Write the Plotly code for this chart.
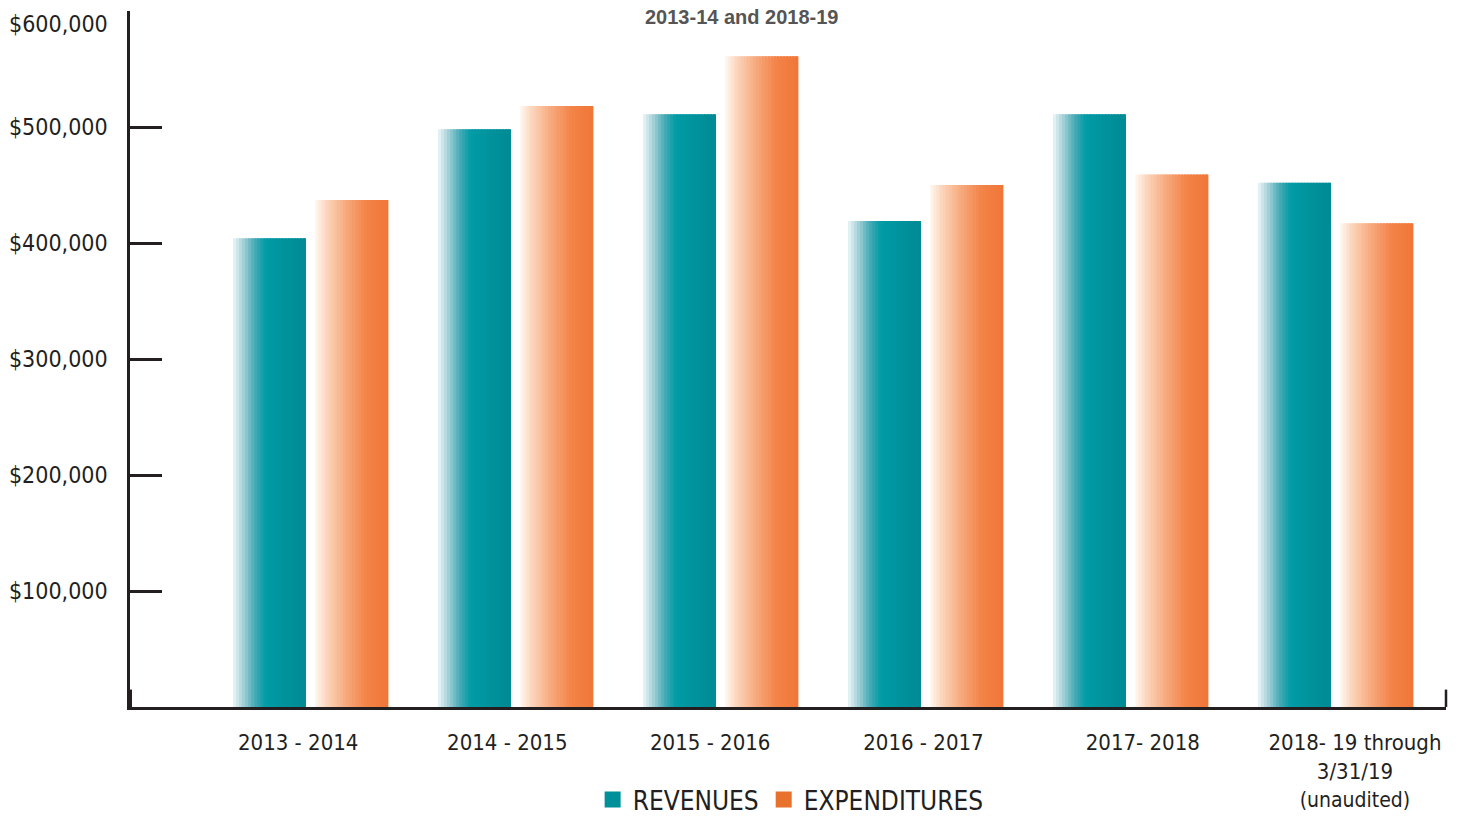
import plotly.graph_objects as go

# ---------------- data ----------------
categories = ["2013 - 2014", "2014 - 2015", "2015 - 2016", "2016 - 2017", "2017- 2018",
              "2018- 19 through<br>3/31/19<br><span style='font-size:21px'>(unaudited)</span>"]
revenues = [404000, 498000, 511000, 419000, 511000, 452000]
expenditures = [437000, 518000, 561000, 450000, 459000, 417000]
y_tick_vals = [100000, 200000, 300000, 400000, 500000, 600000]
y_tick_text = ["$100,000", "$200,000", "$300,000", "$400,000", "$500,000", "$600,000"]
series_names = ["REVENUES", "EXPENDITURES"]
title_text = "2013-14 and 2018-19"

# ---------------- style ----------------
FONT = "Liberation Sans Narrow, DejaVu Sans Condensed, Arial Narrow, sans-serif"
INK = "#231f20"
label_shift = [-0.06, -0.04, -0.05, -0.01, 0.06, 0.095]  # tick label nudges (group units)
bar_w = 0.356
rev_off = -0.378
exp_off = 0.024
N = 24

teal_stops = [(0.0, (236, 246, 248)), (0.12, (175, 213, 220)), (0.3, (70, 170, 180)),
              (0.45, (0, 156, 166)), (0.7, (0, 147, 157)), (1.0, (0, 138, 148))]
orange_stops = [(0.0, (255, 246, 238)), (0.15, (252, 214, 190)), (0.4, (247, 172, 128)),
                (0.7, (243, 131, 72)), (1.0, (240, 118, 55))]


def interp(stops, t):
    for (t0, c0), (t1, c1) in zip(stops[:-1], stops[1:]):
        if t0 <= t <= t1:
            f = (t - t0) / (t1 - t0) if t1 > t0 else 0
            return "rgb(%d,%d,%d)" % tuple(round(a + (b - a) * f) for a, b in zip(c0, c1))
    return "rgb(%d,%d,%d)" % stops[-1][1]


x_idx = list(range(len(categories)))
fig = go.Figure()
step = bar_w / N
for vals, off, stops in [(revenues, rev_off, teal_stops), (expenditures, exp_off, orange_stops)]:
    for k in range(N):
        t = (k + 0.5) / N
        w = step if k == N - 1 else step * 1.6
        fig.add_trace(go.Bar(
            x=x_idx, y=vals, offset=off + k * step, width=w,
            marker=dict(color=interp(stops, t), line=dict(width=0)),
            showlegend=False, hoverinfo="skip"))

# legend entries
for name, col in zip(series_names, ["#00909a", "#e8712e"]):
    fig.add_trace(go.Scatter(x=[None], y=[None], mode="markers", name=name,
                             marker=dict(symbol="square", size=22, color=col)))

fig.update_layout(
    width=1461, height=819,
    margin=dict(l=130, r=15, t=11, b=112, autoexpand=False),
    plot_bgcolor="white", paper_bgcolor="white",
    barmode="overlay",
    font=dict(family=FONT, color=INK, size=22),
    showlegend=True,
    legend=dict(orientation="h", x=0.502, xanchor="center", y=-0.133, yanchor="middle",
                font=dict(size=26, color=INK), itemsizing="trace", tracegroupgap=0,
                bgcolor="rgba(0,0,0,0)"),
    xaxis=dict(range=[-0.8805, 5.539], tickvals=[i + s for i, s in zip(x_idx, label_shift)],
               ticktext=categories, ticks="", showline=True, linecolor=INK, linewidth=2.5,
               showgrid=False, zeroline=False, ticklabelstandoff=14, automargin=False,
               tickfont=dict(size=22, color=INK)),
    yaxis=dict(range=[0, 600000], tickvals=y_tick_vals,
               ticktext=y_tick_text[:-1] + [""],
               ticks="inside", ticklen=32, tickwidth=2.5, tickcolor=INK,
               showline=True, linecolor=INK, linewidth=2.5, showgrid=False, zeroline=False,
               ticklabelstandoff=15, automargin=False, tickfont=dict(size=23, color=INK)),
    annotations=[
        dict(text="<b>" + title_text + "</b>", xref="paper", yref="paper",
             x=0.465, y=1.0, yanchor="bottom", yshift=-19, showarrow=False,
             font=dict(family="Liberation Sans, Arial, sans-serif", size=20, color="#555555")),
        dict(text=y_tick_text[-1], xref="paper", yref="y", x=0, y=y_tick_vals[-1],
             xanchor="right", yanchor="middle", xshift=-20, yshift=-13, showarrow=False,
             font=dict(size=23, color=INK)),
    ],
    shapes=[
        dict(type="line", xref="x domain", yref="y", x0=1, x1=1, y0=0, y1=15000,
             line=dict(color=INK, width=2.5)),
        dict(type="line", xref="x domain", yref="y", x0=0, x1=0, y0=0, y1=15000,
             line=dict(color=INK, width=4)),
    ],
)

fig.write_html("out.html", config={"displayModeBar": False})
with open("out.html", encoding="utf-8") as f:
    html = f.read()
html = html.replace("<body>", "<body style=\"margin:0;padding:0;overflow:hidden\">", 1)
with open("out.html", "w", encoding="utf-8") as f:
    f.write(html)
